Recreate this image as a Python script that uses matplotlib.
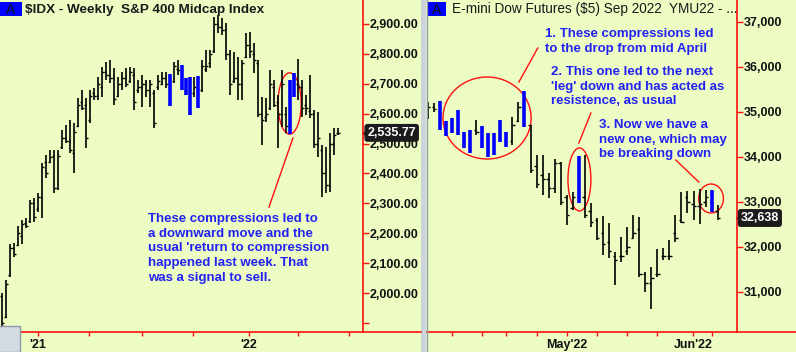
import matplotlib.pyplot as plt
import matplotlib.transforms as mtransforms
from matplotlib.patches import Ellipse, Rectangle
from matplotlib.lines import Line2D

plt.rcParams['font.family'] = ['Liberation Sans', 'DejaVu Sans']

BG = '#EDFCC3'
RED = '#FF1010'
BLUE = '#0000FF'
TXT_BLUE = '#2222F4'

# ---- $IDX weekly bars (Nov 2020 -> Jun 2022) ----
idx_open = [1990, 1920, 2060, 2150, 2160, 2190, 2235, 2240, 2300, 2280, 2320, 2440, 2440, 2460, 2350,
            2490, 2520, 2510, 2470, 2560, 2640, 2630, 2580, 2670, 2660, 2690, 2740, 2730, 2720, 2660,
            2700, 2720, 2710, 2730, 2680, 2690, 2700, 2680, 2670, 2690, 2700, 2720, 2720, 2710, 2750,
            2740, 2680, 2700, 2670, 2700, 2680, 2750, 2770, 2810, 2900, 2890, 2880, 2800, 2710, 2720,
            2700, 2790, 2830, 2800, 2770, 2600, 2590, 2620, 2690, 2640, 2600, 2600, 2560, 2670, 2700,
            2690, 2630, 2610, 2600, 2500, 2480, 2400, 2360, 2500, 2535]
idx_high = [2000, 2044, 2164, 2168, 2224, 2245, 2251, 2311, 2318, 2335, 2435, 2462, 2479, 2479, 2479,
            2546, 2562, 2579, 2569, 2653, 2679, 2653, 2679, 2686, 2723, 2756, 2773, 2780, 2753, 2723,
            2740, 2753, 2756, 2753, 2713, 2730, 2713, 2713, 2679, 2730, 2740, 2740, 2733, 2773, 2780,
            2763, 2719, 2723, 2723, 2726, 2780, 2813, 2813, 2923, 2930, 2920, 2903, 2813, 2806, 2790,
            2780, 2870, 2873, 2836, 2780, 2656, 2653, 2746, 2713, 2663, 2746, 2622, 2713, 2736, 2783,
            2713, 2663, 2730, 2612, 2606, 2495, 2489, 2536, 2552, 2552]
idx_low = [1887, 1917, 2054, 2121, 2158, 2164, 2218, 2235, 2238, 2271, 2251, 2385, 2435, 2335, 2345,
           2482, 2502, 2469, 2402, 2556, 2612, 2485, 2569, 2646, 2646, 2656, 2713, 2703, 2629, 2656,
           2679, 2689, 2703, 2612, 2669, 2622, 2656, 2622, 2552, 2679, 2696, 2686, 2626, 2703, 2730,
           2679, 2663, 2596, 2656, 2619, 2673, 2740, 2753, 2803, 2870, 2863, 2780, 2663, 2703, 2646,
           2646, 2786, 2786, 2736, 2589, 2495, 2572, 2612, 2622, 2485, 2556, 2536, 2532, 2656, 2646,
           2589, 2596, 2586, 2485, 2455, 2321, 2335, 2338, 2462, 2529]
idx_close = [1900, 2030, 2150, 2130, 2200, 2230, 2225, 2300, 2255, 2320, 2420, 2400, 2455, 2350, 2460,
             2520, 2510, 2480, 2540, 2630, 2620, 2520, 2660, 2660, 2700, 2740, 2730, 2720, 2650, 2700,
             2720, 2700, 2740, 2640, 2690, 2700, 2680, 2700, 2570, 2710, 2720, 2700, 2640, 2760, 2745,
             2690, 2700, 2610, 2690, 2630, 2760, 2760, 2800, 2900, 2890, 2880, 2800, 2700, 2720, 2700,
             2770, 2830, 2810, 2780, 2600, 2580, 2600, 2700, 2630, 2600, 2700, 2560, 2540, 2700, 2690,
             2620, 2620, 2600, 2500, 2520, 2400, 2360, 2500, 2530, 2536]
idx_blue = [42, 45, 46, 47, 49, 72, 73]
idx_last = 2535.77
idx_yticks = [1900, 2000, 2100, 2200, 2300, 2400, 2500, 2600, 2700, 2800, 2900]
idx_ylabels = ['', '2,000.00', '2,100.00', '2,200.00', '2,300.00', '2,400.00', '2,500.00',
               '2,600.00', '2,700.00', '2,800.00', '2,900.00']
idx_xticks = [9, 21.75, 35, 47.75, 61.75, 74, 86.75]
idx_xlabels = ["'21", '', '', '', "'22", '', '']

# ---- YMU22 daily bars (late Mar -> early Jun 2022) ----
ym_open = [34900, 35100, 35200, 34650, 34700, 34550, 34500, 34300, 34600, 34550, 34500, 34100, 34350,
           34450, 34350, 34800, 34800, 34700, 33800, 33600, 33500, 33300, 33850, 33100, 32850, 33100,
           33100, 32800, 32600, 32300, 32100, 31800, 31800, 31900, 32200, 32400, 31400, 31200, 31400,
           31800, 31800, 32300, 32600, 33100, 32950, 32900, 33000, 33150, 32800]
ym_high = [35216, 35193, 35238, 34793, 34860, 35038, 34549, 34593, 34816, 34682, 34527, 34527, 34816,
           34549, 34882, 35216, 35460, 34704, 34038, 34038, 33638, 33949, 33882, 33149, 33216, 34016,
           34038, 32971, 32638, 32682, 32527, 31882, 32216, 32438, 32705, 32660, 31438, 31549, 31949,
           31971, 32149, 32705, 33216, 33238, 33238, 33282, 33260, 33260, 32927]
ym_low = [34838, 34993, 34593, 34460, 34527, 34482, 34193, 34082, 34482, 34193, 33993, 34038, 34327,
          34216, 34260, 34771, 34660, 33638, 33304, 33149, 33082, 33193, 32927, 32482, 32816, 32971,
          32638, 32438, 32149, 31816, 31749, 31149, 31660, 31816, 32193, 31327, 30993, 30616, 31327,
          31705, 31705, 32105, 32527, 32749, 32593, 32504, 32882, 32771, 32600]
ym_close = [35100, 35050, 34650, 34700, 34600, 35000, 34300, 34200, 34550, 34600, 34050, 34400, 34400,
            34300, 34700, 35100, 34700, 33700, 33400, 33500, 33300, 33850, 33000, 32700, 33100, 33050,
            32700, 32550, 32200, 32050, 31900, 31700, 31800, 32000, 32300, 31400, 31200, 31300, 31400,
            31800, 31800, 32200, 32550, 33000, 32900, 32950, 33100, 32800, 32638]
ym_blue = [2, 3, 4, 5, 6, 7, 9, 10, 11, 12, 13, 16, 25, 47]
ym_last = 32638
ym_yticks = [31000, 32000, 33000, 34000, 35000, 36000, 37000]
ym_ylabels = ['31,000', '32,000', '33,000', '34,000', '35,000', '36,000', '37,000']
ym_xticks = [4, 9, 13, 18, 23, 28, 33, 38, 43.9, 47]
ym_xlabels = ['', '', '', '', "May'22", '', '', '', "Jun'22", '']

W, H = 796, 352


def fx(x):
    return x / W


def fy(y):
    return 1 - y / H


def draw_bars(ax, o, h, l, c, blue, tick):
    for i in range(len(h)):
        if i in blue:
            ax.vlines(i, l[i], h[i], color=BLUE, lw=2.6)
        else:
            ax.vlines(i, l[i], h[i], color='black', lw=1.2)
            ax.hlines(o[i], i - tick, i, color='black', lw=1.0)
            ax.hlines(c[i], i, i + tick, color='black', lw=1.0)


def style(ax, yt, yl, xt, xl):
    ax.set_facecolor(BG)
    for s in ['top', 'left']:
        ax.spines[s].set_visible(False)
    for s in ['right', 'bottom']:
        ax.spines[s].set_color(RED)
        ax.spines[s].set_linewidth(1.2)
    ax.yaxis.tick_right()
    ax.set_yticks(yt, yl, fontsize=9, fontweight='bold')
    ax.set_xticks(xt, xl, fontsize=9, fontweight='bold')
    ax.tick_params(axis='y', colors=RED, labelcolor='#111111', length=4, width=1, pad=1)
    ax.tick_params(axis='x', colors=RED, labelcolor='#111111', length=3, width=1, pad=2)


def badge(ax, price, label):
    tr = mtransforms.blended_transform_factory(ax.transAxes, ax.transData)
    ax.text(1.012, price, label, transform=tr, ha='left', va='center', color='white',
            fontsize=9, fontweight='bold', clip_on=False,
            bbox=dict(boxstyle='round,pad=0.18', fc='#1b1b1b', ec='#1b1b1b'))
    ax.plot([1.006], [price], marker='<', ms=5, color='#1b1b1b', transform=tr, clip_on=False)


fig = plt.figure(figsize=(W / 100, H / 100), dpi=100)
fig.patch.set_facecolor(BG)

# left panel
ax1 = fig.add_axes([0, fy(332), fx(363), 332 / H])
draw_bars(ax1, idx_open, idx_high, idx_low, idx_close, idx_blue, 0.55)
ax1.set_xlim(-0.5, 90.25)
ax1.set_ylim(1870, 2980)
style(ax1, idx_yticks, idx_ylabels, idx_xticks, idx_xlabels)
badge(ax1, idx_last, '2,535.77')
ax1.add_patch(Ellipse((71.9, 2634), 5.8, 205, fill=False, ec=RED, lw=1))
ax1.plot([72.75, 66.75], [2519, 2288], color=RED, lw=1)

# right panel
ax2 = fig.add_axes([fx(427), fy(332), fx(310), 332 / H])
draw_bars(ax2, ym_open, ym_high, ym_low, ym_close, ym_blue, 0.4)
ax2.set_xlim(-0.15, 51.2)
ax2.set_ylim(30105, 37482)
style(ax2, ym_yticks, ym_ylabels, ym_xticks, ym_xlabels)
badge(ax2, ym_last, '32,638')
ax2.add_patch(Ellipse((9.8, 34860), 14.6, 1822, fill=False, ec=RED, lw=1))
ax2.add_patch(Ellipse((25.1, 33494), 3.8, 1400, fill=False, ec=RED, lw=1))
ax2.add_patch(Ellipse((46.9, 33071), 4.1, 644, fill=False, ec=RED, lw=1))
ax2.plot([15.07, 18.2], [35660, 36415], color=RED, lw=1)
ax2.plot([25.0, 27.0], [34304, 34971], color=RED, lw=1)
ax2.plot([41.06, 44.87], [33927, 33438], color=RED, lw=1)

# bottom axis line across label columns, panel separator, corner widget
fig.add_artist(Line2D([fx(363), fx(421)], [fy(332), fy(332)], color=RED, lw=1.2))
fig.add_artist(Line2D([fx(737), 1], [fy(332), fy(332)], color=RED, lw=1.2))
fig.add_artist(Rectangle((fx(421), 0), fx(5), 1, fc='#CBD3DD', ec='none'))
fig.add_artist(Line2D([fx(426.5), fx(426.5)], [0, 1], color='#8E9AAA', lw=1))
fig.add_artist(Rectangle((fx(-4), fy(352)), fx(24), 26 / H, fc='#D5DBE3', ec='#8C97A6', lw=1))

# titles
fig.add_artist(Rectangle((fx(0), fy(16)), fx(22), 14 / H, fc=BLUE, ec='none'))
fig.text(fx(11), fy(9.5), 'A', ha='center', va='center', fontsize=10, color='#111111')
fig.text(fx(25), fy(9.5), '$IDX - Weekly  S&P 400 Midcap Index', ha='left', va='center',
         fontsize=9.7, fontweight='bold', color='#1a1a1a')
fig.add_artist(Rectangle((fx(427), fy(16)), fx(19), 14 / H, fc=BLUE, ec='none'))
fig.text(fx(436.5), fy(9.5), 'A', ha='center', va='center', fontsize=10, color='#111111')
fig.text(fx(452), fy(9.5), 'E-mini Dow Futures ($5) Sep 2022  YMU22 - ...', ha='left', va='center',
         fontsize=9.8, color='#1a1a1a')

# annotations
note_kw = dict(ha='left', va='top', fontsize=9.5, fontweight='bold', color=TXT_BLUE, linespacing=1.3)
fig.text(fx(148), fy(213), "These compressions led to\na downward move and the\n"
         "usual 'return to compression\nhappened last week. That\nwas a signal to sell.", **note_kw)
fig.text(fx(545), fy(28), "1. These compressions led\nto the drop from mid April", **note_kw)
fig.text(fx(551), fy(66), "2. This one led to the next\n'leg' down and has acted as\n"
         "resistence, as usual", **note_kw)
fig.text(fx(599), fy(119), "3. Now we have a\nnew one, which may\nbe breaking down", **note_kw)

fig.savefig('out.png', dpi=100, facecolor=BG)
